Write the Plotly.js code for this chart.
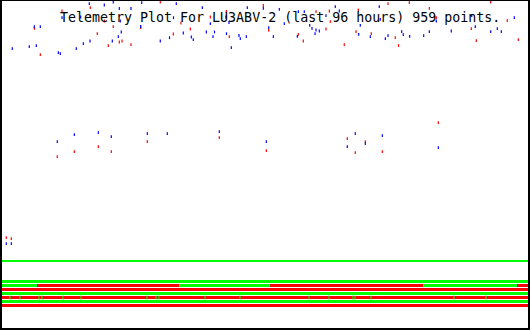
<!DOCTYPE html>
<html><head><meta charset="utf-8">
<script src="https://cdn.plot.ly/plotly-3.0.1.min.js"></script>
<style>html,body{margin:0;padding:0;background:#fff}#chart{width:530px;height:330px}</style>
</head><body><div id="chart"></div>
<script>
const titleText = "Telemetry Plot For LU3ABV-2 (last 96 hours) 959 points.";
const windowHours = 96;

// analog channel A (red): time in hours, raw value
const redHours = [28.89,47.69,10.95,16.12,16.06,18.67,25.31,32.67,38.02,40.94,5.90,20.31,17.39,21.90,21.41,19.40,23.54,6.99,31.26,34.37,41.48,48.68,57.31,59.13,54.08,54.99,62.47,65.03,64.61,67.40,70.45,71.78,72.37,59.74,59.92,74.34,77.99,89.19,79.26,85.65,86.57,92.22,94.23,
  10.09,13.20,17.58,19.95,26.52,39.66,48.24,63.02,64.48,66.31,69.41,79.63,0.78,1.70];
const redValues = [326,322.5,317,320.3,312,307,300.3,305,311,316.5,299.7,301.3,294.3,287,286,282.3,283.3,273.3,294,299,291.3,297.7,316.3,299,293.7,287,283.3,318,296.3,294.3,324.3,290.3,282.5,317,306.3,325.3,319.7,326,310.3,299.3,287.3,307.3,288.3,
  171.3,176.3,181.3,176.3,186.3,190.3,177.3,189.3,175.3,186.3,176.3,205.3,90.3,89.3];

// analog channel B (blue)
const blueHours = [15.93,18.67,20.31,21.41,23.54,25.50,31.81,36.56,44.77,47.69,10.95,14.36,21.59,25.31,31.30,38.02,40.88,5.90,6.99,21.77,21.23,20.13,16.06,14.84,13.56,6.26,4.98,1.88,10.28,10.64,28.89,30.57,33.09,34.55,34.91,37.29,38.51,38.78,40.97,43.25,43.49,44.59,41.85,41.43,
  50.61,54.08,55.17,60.83,61.56,68.86,51.52,48.68,49.52,56.16,56.58,57.31,57.91,57.13,59.13,65.39,65.10,67.22,70.45,69.96,53.90,69.04,
  79.26,85.73,86.38,82.00,72.95,73.24,74.41,76.96,77.99,89.19,90.40,91.13,93.50,
  10.09,13.20,17.58,19.95,26.52,30.17,39.66,48.24,63.02,64.48,66.31,69.41,79.63,0.78,1.70];
const blueValues = [324.3,323,326,319.5,319.5,325.3,324.3,320.3,320.3,319.7,310.3,311,307,301.5,310.3,304.3,311,301.3,301.3,296,291.3,287,287,284.3,279.3,282.3,281.3,279.3,275.3,274.3,287,290.3,295,291,288.3,296,291.3,296,294.3,292.5,289.3,291.3,280.3,305.5,
  318.7,316.3,316.3,321.3,317,321.3,304.3,300.3,291.3,302.7,299.7,298,297,294.3,312.3,302.7,293.7,291.3,292.3,289.3,291.7,308.7,
  307,312.3,301.3,297,296.3,293.3,291.7,292.3,296.3,296.3,299.3,296.3,310.3,
  186.3,193.3,195.3,191.3,194.3,194.3,196.3,186.3,181.3,194.3,184.3,192.3,180.3,84.3,84.3];

// digital bits: change times (hours) and state after each change (1 = on, 0 = off)
const bit0Times = [0], bit0States = [1];
const bit1Times = [0], bit1States = [1];
const bit2Times = [0, 6.39, 32.30, 48.91, 76.84, 93.99], bit2States = [1, 0, 1, 0, 1, 0];
const bit3Times = [0], bit3States = [0];
const bit4Times = [0], bit4States = [1];
const bit5Times = [0], bit5States = [0];
const bit5Pulses = [1.46,3.29,6.75,7.30,11.13,14.42,26.46,28.11,28.65,37.05,43.44,56.03,59.68,64.06,64.43,67.35,82.49,88.33];
const bit6Times = [0], bit6States = [1];
const bit7Times = [0], bit7States = [0];

const ON = '#00ff00', OFF = '#ff0000', RED = '#ff0000', BLUE = '#0000ff';
const bits = [[bit0Times, bit0States], [bit1Times, bit1States], [bit2Times, bit2States], [bit3Times, bit3States],
              [bit4Times, bit4States], [bit5Times, bit5States], [bit6Times, bit6States], [bit7Times, bit7States]];

function rowY(i) { return i === 0 ? 67 : 46.5 - 4 * (i - 1); }
function segments(times, states, want, y) {
  const xs = [], ys = [];
  for (let k = 0; k < times.length; k++) {
    if (states[k] !== want) continue;
    const end = k + 1 < times.length ? times[k + 1] : windowHours;
    xs.push(times[k], end, null); ys.push(y, y, null);
  }
  return {xs, ys};
}

const traces = [];
bits.forEach(([t, s], i) => {
  const y = rowY(i), w = i === 0 ? 2 : 3;
  [[1, ON], [0, OFF]].forEach(([st, col]) => {
    const sg = segments(t, s, st, y);
    if (sg.xs.length) traces.push({type: 'scatter', mode: 'lines', x: sg.xs, y: sg.ys, connectgaps: false,
      line: {color: col, width: w}, hoverinfo: 'skip'});
  });
});
traces.push({type: 'scatter', mode: 'markers', x: bit5Pulses, y: bit5Pulses.map(() => rowY(5)),
  marker: {symbol: 'line-ns-open', size: 3, color: ON, line: {width: 1, color: ON}}});
traces.push({type: 'scatter', mode: 'markers', x: redHours, y: redValues,
  marker: {symbol: 'line-ns-open', size: 2, color: RED, line: {width: 1.2, color: RED}}});
traces.push({type: 'scatter', mode: 'markers', x: blueHours, y: blueValues,
  marker: {symbol: 'line-ns-open', size: 2, color: BLUE, line: {width: 1.2, color: BLUE}}});

const axisBase = {showgrid: false, zeroline: false, showticklabels: false, ticks: '', showline: true, mirror: true,
  linecolor: '#000', linewidth: 2, fixedrange: true};
const layout = {
  width: 530, height: 330,
  margin: {l: 2, r: 2, t: 1, b: 2, pad: 0},
  paper_bgcolor: '#ffffff', plot_bgcolor: '#ffffff',
  showlegend: false,
  title: {text: titleText, xref: 'container', x: 60 / 530, xanchor: 'left', yref: 'container', y: 1 - 17 / 330, yanchor: 'middle',
    font: {family: 'DejaVu Sans Mono', size: 13.3, color: '#000'}},
  xaxis: Object.assign({range: [0, windowHours]}, axisBase),
  yaxis: Object.assign({range: [0, 327]}, axisBase)
};
Plotly.newPlot('chart', traces, layout, {staticPlot: true, displayModeBar: false});
</script></body></html>
